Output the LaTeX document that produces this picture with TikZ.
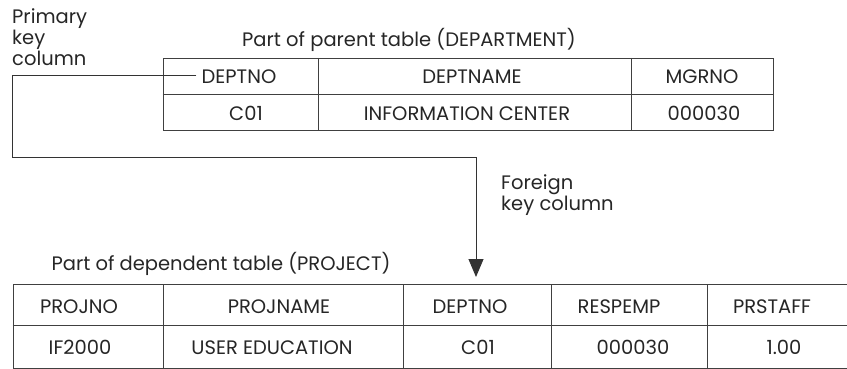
\documentclass[tikz,border=0pt]{standalone}
\usepackage{fontspec}
\setmainfont{Poppins}
\usetikzlibrary{arrows.meta, calc}

\newcommand{\tablefont}{\fontsize{19.5}{21}\selectfont}
\newcommand{\notefont}{\fontsize{19.5}{21}\selectfont}

\begin{document}
\begin{tikzpicture}[x=1pt, y=-1pt,
  frame/.style={draw=black!75, line width=0.9pt, inner sep=0pt},
  rule/.style={draw=black!75, line width=0.9pt},
  txt/.style={font=\tablefont, text=black!85, inner sep=0pt, anchor=base},
  note/.style={font=\notefont, text=black!85, inner sep=0pt, align=left},
  link/.style={draw=black!80, line width=0.9pt},
  fk/.style={link, -{Triangle[length=18pt, width=15pt]}}
]
  \useasboundingbox (0,0) rectangle (847,369);

  % labels
  \node (pklabel) [note, anchor=north west] at (12,8) {Primary\\key\\column};
  \node (parentcap) [note, anchor=base] at (409,47) {Part of parent table (DEPARTMENT)};
  \node (fklabel) [note, anchor=north west] at (501,174) {Foreign\\key column};
  \node (projcap) [note, anchor=base] at (221,270) {Part of dependent table (PROJECT)};

  % parent table (DEPARTMENT)
  \node (dept) [frame, minimum width=610pt, minimum height=72pt] at (468,94) {};
  \draw[rule] (dept.west |- 0,94) -- (dept.east |- 0,94);
  \foreach \x in {318,631}
    \draw[rule] (\x,58) -- (\x,130);
  \node (pdeptno) [txt] at (239,84) {DEPTNO};
  \node (pdeptname) [txt] at (472,84) {DEPTNAME};
  \node (pmgrno) [txt] at (702,84) {MGRNO};
  \node (pc01) [txt] at (246,121) {C01};
  \node (pinfo) [txt] at (467,121) {INFORMATION CENTER};
  \node (pmgr) [txt] at (704,121) {000030};

  % dependent table (PROJECT)
  \node (proj) [frame, minimum width=835pt, minimum height=84pt] at (430.5,326) {};
  \draw[rule] (proj.west |- 0,325) -- (proj.east |- 0,325);
  \foreach \x in {163,403,551,707}
    \draw[rule] (\x,284) -- (\x,368);
  \node (projno) [txt] at (79,313) {PROJNO};
  \node (projname) [txt] at (279,313) {PROJNAME};
  \node (fdeptno) [txt] at (470,313) {DEPTNO};
  \node (respemp) [txt] at (619,313) {RESPEMP};
  \node (prstaff) [txt] at (772,313) {PRSTAFF};
  \node (if2000) [txt] at (80,354) {IF2000};
  \node (usered) [txt] at (272,354) {USER EDUCATION};
  \node (fc01) [txt] at (478,354) {C01};
  \node (femp) [txt] at (633,354) {000030};
  \node (fstaff) [txt] at (784,354) {1.00};

  % key connector
  \coordinate (pkcorner) at (12,157);
  \coordinate (fkend) at (476,277);
  \draw[fk] ([xshift=-5pt,yshift=9pt]pdeptno.base west) -| (pkcorner) -| (fkend);
\end{tikzpicture}
\end{document}
